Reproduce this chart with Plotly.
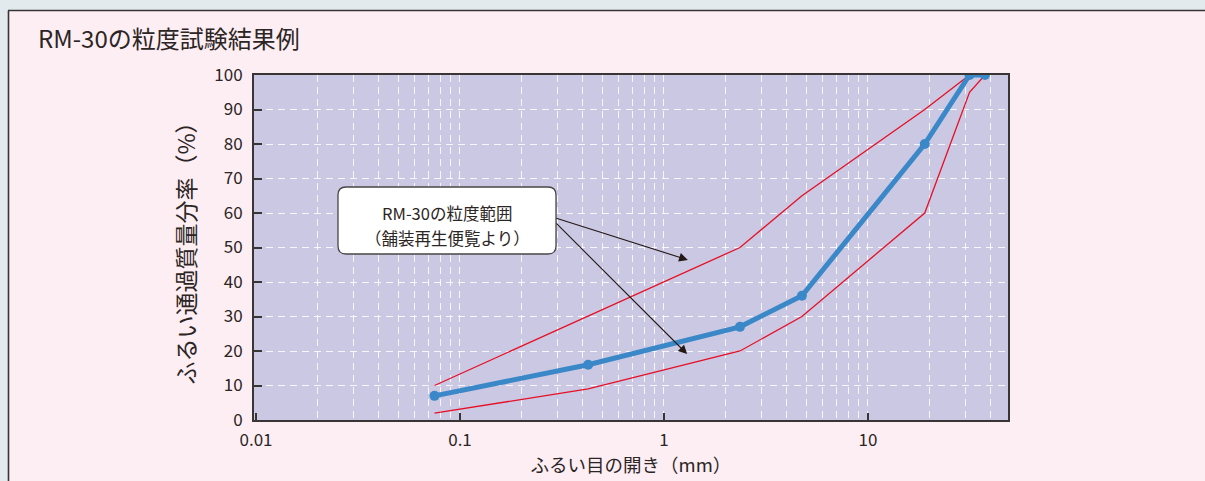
import plotly.graph_objects as go
import math

# ---- data ----
sieve_mm = [0.075, 0.425, 2.36, 4.75, 19, 31.5, 37.5]
passing_pct = [7, 16, 27, 36, 80, 100, 100]
upper_pct = [10, 30, 50, 65, 90, 100, 100]
lower_pct = [2, 9, 20, 30, 60, 95, 100]

x_tickvals = [0.01, 0.1, 1, 10]
x_ticktext = ["0.01", "0.1", "1", "10"]
y_tickvals = [0, 10, 20, 30, 40, 50, 60, 70, 80, 90, 100]

title_text = "RM-30の粒度試験結果例"
x_title = "ふるい目の開き（mm）"
y_title = "ふるい通過質量分率（%）"
box_line1 = "RM-30の粒度範囲"
box_line2 = "（舗装再生便覧より）"

# arrow endpoints (data units: mm, %)
arrow_start = [(0.292, 58.6), (0.292, 57.4)]
arrow_end = [(1.31, 46.4), (1.30, 19.1)]

minor_grid = [m * 10 ** e for e in (-2, -1, 0, 1) for m in range(2, 11) if m * 10 ** e <= 50]

FONT = "Noto Sans CJK JP"
TXT = "#2b2523"
BLUE = "#3b88c8"
RED = "#e60f24"
PINK = "#fdeef4"

fig = go.Figure()
fig.add_trace(go.Scatter(x=sieve_mm, y=upper_pct, mode="lines",
                         line=dict(color=RED, width=1.3), hoverinfo="skip"))
fig.add_trace(go.Scatter(x=sieve_mm, y=lower_pct, mode="lines",
                         line=dict(color=RED, width=1.3), hoverinfo="skip"))
fig.add_trace(go.Scatter(x=sieve_mm, y=passing_pct, mode="lines+markers",
                         line=dict(color=BLUE, width=5),
                         marker=dict(color=BLUE, size=10)))

L, R, T, B = 254, 1008, 75, 420
W, H = 1205, 481
pw, ph = R - L, B - T


def px(xp):
    return (xp - L) / pw


def py(yp):
    return (B - yp) / ph


shapes = []
# outer gray strips + panel border
shapes.append(dict(type="rect", xref="paper", yref="paper", x0=px(-5), x1=px(W + 5),
                   y0=py(10), y1=py(-5), fillcolor="#e2eaed", line=dict(width=0), layer="above"))
shapes.append(dict(type="rect", xref="paper", yref="paper", x0=px(-5), x1=px(8),
                   y0=py(H + 5), y1=py(-5), fillcolor="#e2eaed", line=dict(width=0), layer="above"))
shapes.append(dict(type="line", xref="paper", yref="paper", x0=px(8), x1=px(W + 5),
                   y0=py(10.5), y1=py(10.5), line=dict(color="#3a3535", width=1.6), layer="above"))
shapes.append(dict(type="line", xref="paper", yref="paper", x0=px(8.5), x1=px(8.5),
                   y0=py(10.5), y1=py(H + 5), line=dict(color="#3a3535", width=1.6), layer="above"))

# rounded callout box
x0, x1, y0, y1 = px(338), px(556), py(254), py(187)
rx, ry = 8 / pw, 8 / ph
path = (f"M {x0+rx},{y1} L {x1-rx},{y1} Q {x1},{y1} {x1},{y1-ry} L {x1},{y0+ry} "
        f"Q {x1},{y0} {x1-rx},{y0} L {x0+rx},{y0} Q {x0},{y0} {x0},{y0+ry} "
        f"L {x0},{y1-ry} Q {x0},{y1} {x0+rx},{y1} Z")
shapes.append(dict(type="path", xref="paper", yref="paper", path=path,
                   fillcolor="white", line=dict(color="#4a4545", width=1.3), layer="above"))

annotations = [
    dict(xref="paper", yref="paper", x=px(447), y=py(213), text=box_line1, showarrow=False,
         font=dict(family=FONT, size=16.5, color=TXT), xanchor="center", yanchor="middle"),
    dict(xref="paper", yref="paper", x=px(447), y=py(238), text=box_line2, showarrow=False,
         font=dict(family=FONT, size=16.5, color=TXT), xanchor="center", yanchor="middle"),
]
for (sx, sy), (ex, ey) in zip(arrow_start, arrow_end):
    annotations.append(dict(xref="x", yref="y", axref="x", ayref="y",
                            x=math.log10(ex), y=ey, ax=math.log10(sx), ay=sy,
                            text="", showarrow=True, arrowhead=2, arrowsize=1.6,
                            arrowwidth=1.1, arrowcolor="#231815", standoff=0, startstandoff=0))

fig.update_layout(
    width=W, height=H,
    margin=dict(l=L, r=W - R, t=T, b=H - B, pad=0),
    paper_bgcolor=PINK,
    plot_bgcolor="#cbc8e3",
    showlegend=False,
    font=dict(family=FONT, color=TXT),
    title=dict(text=title_text, x=38 / W, xanchor="left", xref="container",
               y=1 - 40 / H, yanchor="middle", yref="container",
               font=dict(family=FONT, size=24, color=TXT)),
    shapes=shapes,
    annotations=annotations,
)

fig.update_xaxes(
    type="log", range=[-2.01, 1.687],
    tickvals=x_tickvals, ticktext=x_ticktext,
    ticks="inside", ticklen=7, tickwidth=1.5, tickcolor="#3a3535",
    showgrid=False, zeroline=False,
    showline=True, linecolor="#3a3535", linewidth=2, mirror=True,
    tickfont=dict(family=FONT, size=17, color=TXT), ticklabelstandoff=4,
    minor=dict(tickvals=minor_grid, showgrid=True, gridcolor="rgba(255,255,255,0.85)",
               griddash="7px,5px", gridwidth=1, ticks=""),
    title=dict(text=x_title, font=dict(family=FONT, size=18.5, color=TXT), standoff=6),
)
fig.update_yaxes(
    range=[0, 100], tickvals=y_tickvals,
    ticks="inside", ticklen=8, tickwidth=1.5, tickcolor="#3a3535",
    showgrid=True, gridcolor="rgba(255,255,255,0.85)", griddash="7px,5px", gridwidth=1,
    zeroline=False,
    showline=True, linecolor="#3a3535", linewidth=2, mirror=True,
    tickfont=dict(family=FONT, size=17, color=TXT), ticklabelstandoff=6,
    title=dict(text=y_title, font=dict(family=FONT, size=23, color=TXT), standoff=12),
)

fig.write_html("out.html", config={"displayModeBar": False},
               post_script=("var d=document.documentElement, b=document.body;"
                            "b.style.margin='0';b.style.overflow='hidden';"
                            "d.style.overflow='hidden';d.style.scrollbarWidth='none';"
                            f"d.style.background='{PINK}';b.style.background='{PINK}';"))
